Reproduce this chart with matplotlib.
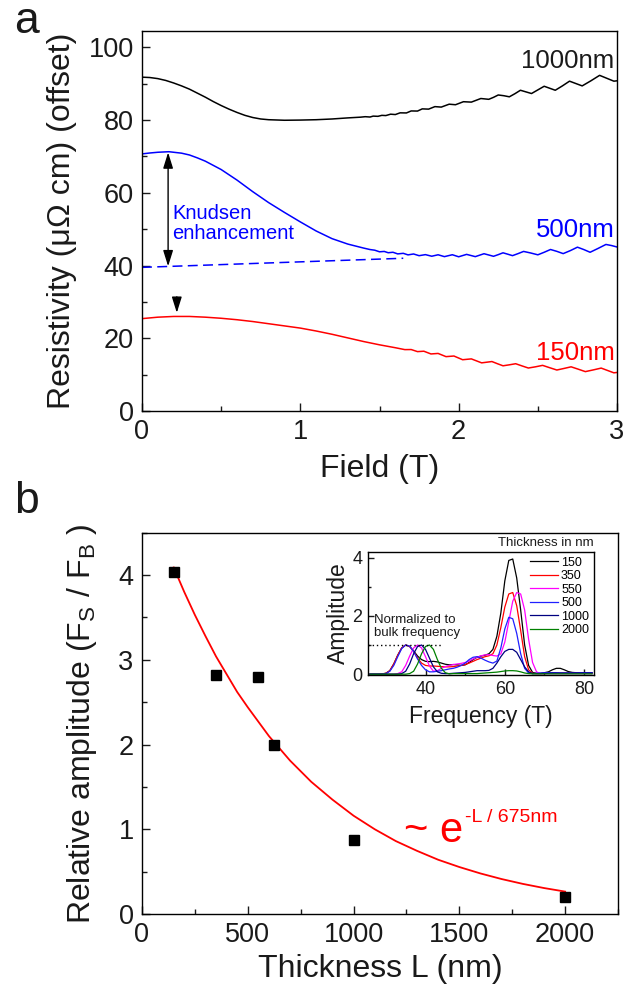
import matplotlib
matplotlib.use('Agg')
import matplotlib.pyplot as plt
from matplotlib.ticker import MultipleLocator

plt.rcParams['font.family'] = ['Liberation Sans', 'DejaVu Sans']
plt.rcParams['mathtext.fontset'] = 'custom'
plt.rcParams['mathtext.rm'] = 'Liberation Sans'

# ---- panel a: resistivity vs field (offset curves) ----
field_1000 = [0.00, 0.05, 0.10, 0.15, 0.20, 0.25, 0.30, 0.35, 0.40, 0.45, 0.50, 0.55,
              0.60, 0.65, 0.70, 0.75, 0.80, 0.90, 1.00, 1.10, 1.20, 1.30, 1.38,
              1.41, 1.44, 1.46, 1.49, 1.515, 1.54, 1.57, 1.60, 1.63, 1.67, 1.70, 1.74,
              1.77, 1.81, 1.85, 1.89, 1.94, 1.98, 2.03, 2.08, 2.14, 2.19, 2.22, 2.25,
              2.285, 2.32, 2.355, 2.39, 2.425, 2.46, 2.50, 2.54, 2.575, 2.61, 2.655,
              2.70, 2.74, 2.78, 2.835, 2.89, 2.935, 2.98, 3.00]
rho_1000 = [91.8, 91.7, 91.4, 90.9, 90.2, 89.4, 88.5, 87.4, 86.3, 85.1, 84.0, 83.0,
            82.1, 81.3, 80.7, 80.3, 80.1, 79.95, 80.0, 80.1, 80.3, 80.6, 80.8,
            80.93, 80.84, 81.09, 81.03, 81.30, 81.24, 81.62, 81.52, 81.99, 81.96, 82.51, 82.48,
            83.08, 83.01, 83.70, 83.57, 84.37, 84.22, 85.05, 84.94, 85.93, 85.71, 86.25, 86.9,
            86.7, 86.4, 87.25, 88.2, 87.75, 87.3, 88.3, 89.3, 88.75, 88.2, 89.4,
            90.7, 90.05, 89.4, 90.8, 92.3, 91.5, 90.7, 90.8]

field_500 = [0.00, 0.05, 0.10, 0.17, 0.25, 0.30, 0.35, 0.40, 0.50, 0.60, 0.70, 0.80,
             0.90, 1.00, 1.10, 1.20, 1.30, 1.40, 1.44,
             1.47, 1.50, 1.53, 1.555, 1.585, 1.615, 1.65, 1.68, 1.715, 1.75, 1.79, 1.83,
             1.87, 1.91, 1.96, 2.00, 2.05, 2.105, 2.16, 2.19, 2.22, 2.25, 2.28, 2.31,
             2.34, 2.375, 2.41, 2.455, 2.50, 2.54, 2.58, 2.62, 2.66, 2.705, 2.75, 2.79,
             2.83, 2.88, 2.93, 2.965, 3.00]
rho_500 = [70.7, 70.95, 71.15, 71.3, 70.9, 70.4, 69.6, 68.7, 66.4, 63.5, 60.3, 57.3,
           54.6, 52.0, 49.5, 47.4, 45.9, 44.8, 44.4,
           44.22, 43.78, 43.88, 43.52, 43.65, 43.2, 43.36, 42.93, 43.18, 42.71, 43.0, 42.56,
           42.96, 42.45, 42.97, 42.41, 43.07, 42.45, 43.25, 42.9, 42.54, 43.0, 43.5, 43.12,
           42.72, 43.28, 43.88, 43.45, 42.95, 43.65, 44.41, 43.9, 43.28, 44.1, 45.05, 44.4,
           43.65, 44.7, 45.8, 45.5, 45.1]

field_150 = [0.00, 0.10, 0.20, 0.30, 0.40, 0.50, 0.60, 0.70, 0.80, 0.90, 1.00, 1.10,
             1.20, 1.30, 1.40, 1.50, 1.60,
             1.66, 1.70, 1.74, 1.78, 1.825, 1.87, 1.92, 1.97, 2.025, 2.08, 2.145, 2.21,
             2.245, 2.28, 2.32, 2.36, 2.40, 2.44, 2.485, 2.53, 2.575, 2.62, 2.665, 2.71,
             2.755, 2.80, 2.85, 2.90, 2.94, 2.98, 3.00]
rho_150 = [25.4, 25.8, 26.0, 26.0, 25.8, 25.5, 25.1, 24.6, 24.0, 23.4, 22.8, 22.0,
           21.1, 20.1, 19.1, 18.2, 17.4,
           16.88, 16.9, 16.33, 16.44, 15.69, 15.83, 14.95, 15.12, 14.1, 14.33, 13.24, 13.6,
           13.0, 12.43, 12.7, 13.0, 12.4, 11.82, 12.15, 12.55, 11.9, 11.27, 11.7, 12.15,
           11.5, 10.83, 11.3, 11.8, 11.15, 10.5, 10.6]

bulk_field = [0.0, 1.65]
bulk_rho = [39.5, 42.0]

knudsen_field = 0.165
knudsen_top, knudsen_bottom = 71.1, 39.8
peak_150_field, peak_150_rho = 0.22, 27.0

# ---- panel b: relative amplitude vs thickness ----
thickness = [150, 350, 550, 625, 1000, 2000]
rel_amp = [4.04, 2.82, 2.80, 2.00, 0.87, 0.20]

fit_thickness = [150, 200, 250, 300, 350, 400, 450, 500, 600, 700, 800, 900, 1000,
                 1100, 1200, 1300, 1400, 1500, 1600, 1700, 1800, 1900, 2000]
fit_amp = [4.09, 3.80, 3.53, 3.28, 3.04, 2.83, 2.62, 2.44, 2.10, 1.81, 1.56, 1.35, 1.16,
           1.00, 0.86, 0.745, 0.64, 0.554, 0.478, 0.412, 0.355, 0.306, 0.264]

# ---- inset: FFT amplitude ----
freq = list(range(26, 83))
amp_150 = [0, 0, 0, 0.01, 0.03, 0.12, 0.35, 0.65, 0.9, 1.0, 0.95, 0.8, 0.62, 0.5, 0.44,
           0.43, 0.44, 0.42, 0.38, 0.34, 0.32, 0.33, 0.32, 0.3, 0.32, 0.4, 0.5, 0.58, 0.62,
           0.65, 0.7, 0.85, 1.3, 2.1, 3.2, 3.9, 3.95, 3.3, 2.2, 1.0, 0.3, 0.06, 0.03, 0.03,
           0.05, 0.08, 0.15, 0.2, 0.2, 0.15, 0.09, 0.06, 0.05, 0.05, 0.05, 0.05, 0.05]
amp_350 = [0, 0, 0, 0.01, 0.03, 0.12, 0.35, 0.65, 0.9, 1.0, 0.95, 0.78, 0.55, 0.38, 0.3,
           0.28, 0.28, 0.27, 0.26, 0.25, 0.25, 0.26, 0.28, 0.3, 0.33, 0.38, 0.44, 0.5, 0.55,
           0.6, 0.63, 0.7, 1.0, 1.6, 2.3, 2.75, 2.8, 2.35, 1.5, 0.6, 0.15, 0.03, 0.02, 0.02,
           0.02, 0.03, 0.03, 0.03, 0.03, 0.03, 0.03, 0.03, 0.03, 0.03, 0.03, 0.03, 0.03]
amp_550 = [0, 0, 0, 0, 0, 0, 0, 0.02, 0.08, 0.3, 0.62, 0.9, 1.0, 0.9, 0.6,
           0.28, 0.1, 0.12, 0.2, 0.26, 0.3, 0.33, 0.35, 0.37, 0.4, 0.45, 0.52, 0.58, 0.63,
           0.66, 0.67, 0.64, 0.62, 0.7, 1.1, 1.8, 2.5, 2.8, 2.75, 2.2, 1.2, 0.4, 0.08, 0.02,
           0.02, 0.02, 0.02, 0.02, 0.02, 0.02, 0.02, 0.02, 0.02, 0.02, 0.02, 0.02, 0.02]
amp_500 = [0, 0, 0, 0, 0.02, 0.1, 0.3, 0.6, 0.88, 1.0, 0.96, 0.78, 0.52, 0.3, 0.15,
           0.08, 0.08, 0.1, 0.12, 0.15, 0.18, 0.2, 0.24, 0.3, 0.38, 0.5, 0.58, 0.6, 0.55,
           0.48, 0.42, 0.38, 0.45, 0.9, 1.55, 1.95, 1.9, 1.4, 0.7, 0.2, 0.04, 0.02, 0.03, 0.04,
           0.05, 0.05, 0.05, 0.05, 0.04, 0.04, 0.04, 0.04, 0.04, 0.05, 0.05, 0.05, 0.05]
amp_1000 = [0, 0, 0, 0, 0, 0, 0, 0, 0.02, 0.1, 0.35, 0.7, 0.95, 1.0, 0.85,
            0.55, 0.25, 0.08, 0.03, 0.02, 0.02, 0.03, 0.04, 0.05, 0.06, 0.08, 0.1, 0.12, 0.12,
            0.12, 0.13, 0.2, 0.38, 0.6, 0.78, 0.85, 0.85, 0.75, 0.5, 0.25, 0.08, 0.02, 0.02, 0.02,
            0.03, 0.03, 0.04, 0.04, 0.04, 0.04, 0.04, 0.04, 0.04, 0.04, 0.04, 0.04, 0.04]
amp_2000 = [0, 0, 0, 0, 0, 0, 0, 0, 0, 0, 0.02, 0.1, 0.35, 0.7, 0.95,
            1.0, 0.85, 0.5, 0.2, 0.05, 0.01, 0.02, 0.02, 0.02, 0.02, 0.02, 0.02, 0.02, 0.03,
            0.04, 0.05, 0.06, 0.07, 0.09, 0.11, 0.12, 0.12, 0.11, 0.08, 0.04, 0.02, 0.01, 0.01, 0.01,
            0.01, 0.01, 0.01, 0.01, 0.01, 0.01, 0.01, 0.01, 0.01, 0.01, 0.01, 0.01, 0.01]
inset_series = [('150', amp_150, 'black'), ('350', amp_350, 'red'),
                ('550', amp_550, 'magenta'), ('500', amp_500, '#2020ff'),
                ('1000', amp_1000, 'navy'), ('2000', amp_2000, 'green')]
norm_freq = [25.5, 44.0]
norm_level = [1.0, 1.0]

TXT = '#1a1a1a'


def style_axis(ax, labelsize, major_len=6, minor_len=3.5, pad=6):
    for side in ax.spines.values():
        side.set_linewidth(1.0)
    ax.tick_params(which='both', direction='in', top=False, right=False,
                   width=1.0, labelsize=labelsize, colors=TXT, pad=pad)
    ax.tick_params(which='major', length=major_len)
    ax.tick_params(which='minor', length=minor_len)


fig = plt.figure(figsize=(6.23, 9.93), dpi=100)

# panel a
axa = fig.add_axes([0.2279, 0.5861, 0.7625, 0.3827])
axa.plot(field_1000, rho_1000, color='black', lw=1.1)
axa.plot(field_500, rho_500, color='#0000ff', lw=1.1)
axa.plot(field_150, rho_150, color='#ff0000', lw=1.1)
axa.plot(bulk_field, bulk_rho, color='#0000ff', lw=1.1, dashes=(6.5, 3.5))
axa.annotate('', xy=(knudsen_field, knudsen_top), xytext=(knudsen_field, knudsen_bottom),
             arrowprops=dict(arrowstyle='<|-|>,head_length=0.8,head_width=0.25',
                             color='black', lw=1.0, shrinkA=0, shrinkB=0,
                             mutation_scale=12))
axa.annotate('', xy=(peak_150_field, peak_150_rho), xytext=(peak_150_field, 31.4),
             arrowprops=dict(arrowstyle='-|>,head_length=0.8,head_width=0.25',
                             color='black', lw=1.0, shrinkA=0, shrinkB=0,
                             mutation_scale=12))
axa.text(0.19, 51.6, 'Knudsen\nenhancement', color='#0000ff', fontsize=14.5,
         ha='left', va='center', linespacing=1.1)
axa.text(2.985, 96.2, '1000nm', color=TXT, fontsize=18.5, ha='right', va='center')
axa.text(2.985, 49.9, '500nm', color='#0000ff', fontsize=18.5, ha='right', va='center')
axa.text(2.985, 16.0, '150nm', color='#ff0000', fontsize=18.5, ha='right', va='center')
axa.set_xlim(0, 3)
axa.set_ylim(0, 104.5)
axa.xaxis.set_major_locator(MultipleLocator(1))
axa.xaxis.set_minor_locator(MultipleLocator(0.5))
axa.yaxis.set_major_locator(MultipleLocator(20))
axa.yaxis.set_minor_locator(MultipleLocator(10))
style_axis(axa, 19.5)
axa.set_xlabel('Field (T)', fontsize=23, color=TXT, labelpad=6)
axa.set_ylabel('Resistivity (\u03bc\u03a9 cm) (offset)', fontsize=23, color=TXT, labelpad=8)

# panel b
axb = fig.add_axes([0.2279, 0.0796, 0.7641, 0.3839])
axb.plot(fit_thickness, fit_amp, color='#ff0000', lw=1.3)
axb.plot(thickness, rel_amp, 's', color='black', ms=6.5)
axb.text(1240, 0.85, '~ e', color='#ff0000', fontsize=30, ha='left', va='baseline')
axb.text(1525, 1.09, '-L / 675nm', color='#ff0000', fontsize=14, ha='left', va='baseline')
axb.set_xlim(0, 2250)
axb.set_ylim(0, 4.5)
axb.xaxis.set_major_locator(MultipleLocator(500))
axb.xaxis.set_minor_locator(MultipleLocator(250))
axb.yaxis.set_major_locator(MultipleLocator(1))
axb.yaxis.set_minor_locator(MultipleLocator(0.5))
style_axis(axb, 19.5)
axb.set_xlabel('Thickness L (nm)', fontsize=23, color=TXT, labelpad=4)
axb.set_ylabel(r'Relative amplitude (F$_\mathregular{S}$ / F$_\mathregular{B}$ )',
               fontsize=23, color=TXT, labelpad=14)

# inset
axi = fig.add_axes([0.5907, 0.3202, 0.3628, 0.1242])
for name, amp, col in inset_series:
    axi.plot(freq, amp, color=col, lw=0.9, label=name)
axi.plot(norm_freq, norm_level, color='black', lw=1.0, ls=(0, (1, 2)))
axi.text(27, 1.2, 'Normalized to\nbulk frequency', fontsize=9.5, color=TXT,
         ha='left', va='bottom', linespacing=1.15)
axi.text(1.0, 1.02, 'Thickness in nm', transform=axi.transAxes, fontsize=9.5,
         color=TXT, ha='right', va='bottom')
axi.legend(loc='upper right', bbox_to_anchor=(1.0, 1.0), frameon=False, fontsize=9,
           handlelength=2.2, handletextpad=0.25, labelspacing=0.12, borderpad=0.3,
           borderaxespad=0.1)
axi.set_xlim(25.5, 82.5)
axi.set_ylim(-0.03, 4.2)
axi.xaxis.set_major_locator(MultipleLocator(20))
axi.xaxis.set_minor_locator(MultipleLocator(10))
axi.yaxis.set_major_locator(MultipleLocator(2))
axi.yaxis.set_minor_locator(MultipleLocator(1))
style_axis(axi, 13, major_len=4, minor_len=2.5, pad=4)
axi.set_xlabel('Frequency (T)', fontsize=16.5, color=TXT, labelpad=5)
axi.set_ylabel('Amplitude', fontsize=16.5, color=TXT, labelpad=2)

fig.text(0.0225, 0.9665, 'a', fontsize=32, color=TXT, va='baseline', ha='left')
fig.text(0.0225, 0.4834, 'b', fontsize=32, color=TXT, va='baseline', ha='left')

fig.savefig('out.png', dpi=100)
